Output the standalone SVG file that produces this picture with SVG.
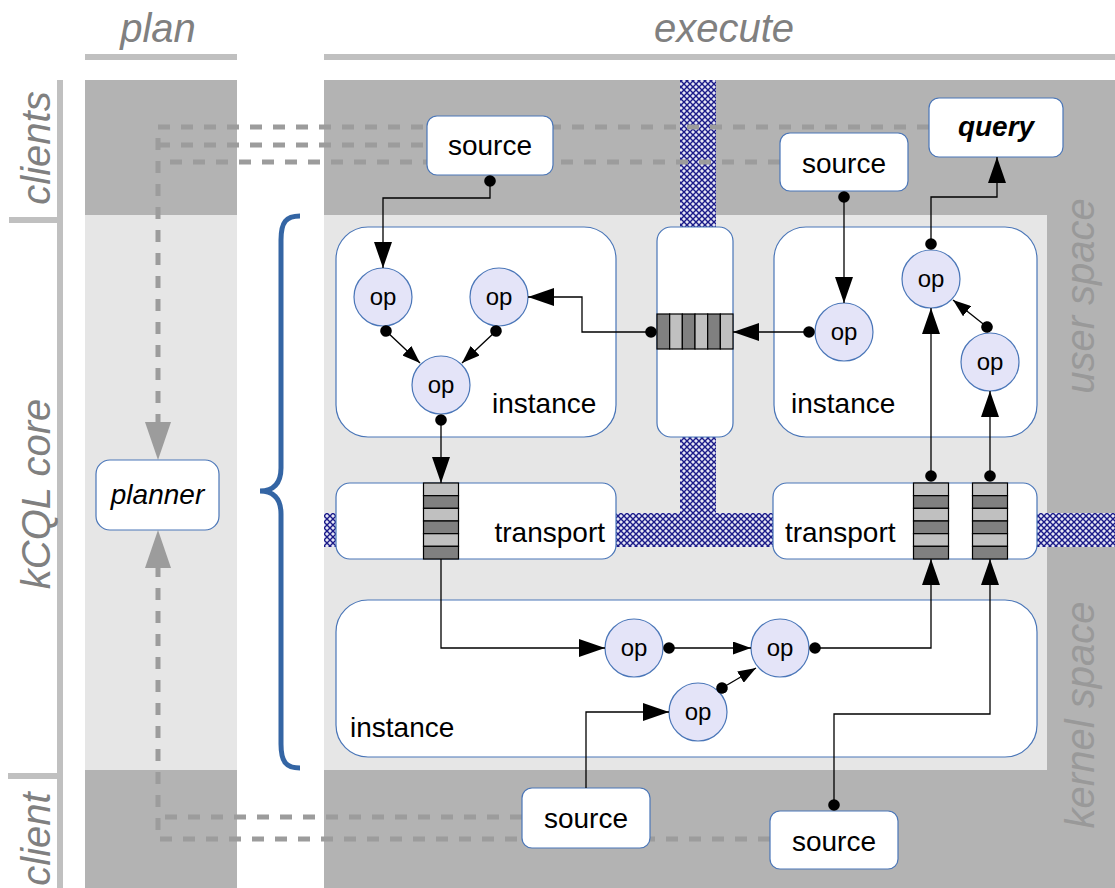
<svg xmlns="http://www.w3.org/2000/svg" width="1115" height="888" viewBox="0 0 1115 888">
  <defs>
    <style>
      .lbl { font-family: "Liberation Sans", Arial, sans-serif; font-style: italic; font-size: 40px; fill: #808080; }
      .side { font-family: "Liberation Sans", Arial, sans-serif; font-style: italic; font-size: 40px; fill: #999999; }
      .box { fill: #ffffff; stroke: #4a76b8; stroke-width: 1.2; }
      .op { fill: #e4e4f8; stroke: #4a76b8; stroke-width: 1.2; }
      .optext { font-family: "Liberation Sans", Arial, sans-serif; font-size: 24px; fill: #000; text-anchor: middle; }
      .name { font-family: "Liberation Sans", Arial, sans-serif; font-size: 28px; fill: #000; }
      .wire { fill: none; stroke: #000; stroke-width: 1.3; }
      .dash { fill: none; stroke: #9c9c9c; stroke-width: 5; stroke-dasharray: 12 11; }
      .qd { fill: #808080; stroke: #000; stroke-width: 1.2; }
      .ql { fill: #c0c0c0; stroke: #000; stroke-width: 1.2; }
      .dark { fill: #b3b3b3; }
      .light { fill: #e6e6e6; }
      .rule { fill: #c0c0c0; }
    </style>
    <pattern id="hatch" width="6" height="6" patternUnits="userSpaceOnUse">
      <rect width="6" height="6" fill="#e6e6f4"/>
      <path d="M0,0 L6,6 M6,0 L0,6" stroke="#1a1a88" stroke-width="1.4"/>
    </pattern>
    <marker id="arr" viewBox="0 0 26 18" refX="26" refY="9" markerWidth="26" markerHeight="18" markerUnits="userSpaceOnUse" orient="auto">
      <path d="M0,0 L26,9 L0,18 Z" fill="#000"/>
    </marker>
    <marker id="arrS" viewBox="0 0 18 13" refX="18" refY="6.5" markerWidth="18" markerHeight="13" markerUnits="userSpaceOnUse" orient="auto">
      <path d="M0,0 L18,6.5 L0,13 Z" fill="#000"/>
    </marker>
    <marker id="arrG" viewBox="0 0 38 26" refX="38" refY="13" markerWidth="38" markerHeight="26" markerUnits="userSpaceOnUse" orient="auto">
      <path d="M0,0 L38,13 L0,26 Z" fill="#9c9c9c"/>
    </marker>
    <marker id="dot" viewBox="0 0 12 12" refX="6" refY="6" markerWidth="12" markerHeight="12" markerUnits="userSpaceOnUse" orient="auto">
      <circle cx="6" cy="6" r="5.8" fill="#000"/>
    </marker>
  </defs>

  <rect width="1115" height="888" fill="#ffffff"/>

  <!-- column headers -->
  <g id="headers">
    <rect class="rule" x="85" y="54" width="152" height="6"/>
    <rect class="rule" x="324" y="54" width="791" height="6"/>
    <text class="lbl" x="158" y="42" text-anchor="middle">plan</text>
    <text class="lbl" x="724" y="42" text-anchor="middle">execute</text>
  </g>

  <!-- row labels on the left -->
  <g id="rows">
    <rect class="rule" x="57" y="80" width="6" height="808"/>
    <rect class="rule" x="9" y="217" width="54" height="6"/>
    <rect class="rule" x="8" y="773" width="55" height="6"/>
    <text class="lbl" transform="translate(50,148) rotate(-90)" text-anchor="middle">clients</text>
    <text class="lbl" transform="translate(50,494) rotate(-90)" text-anchor="middle">kCQL core</text>
    <text class="lbl" transform="translate(50,839) rotate(-90)" text-anchor="middle">client</text>
  </g>

  <!-- shaded zones -->
  <g id="zones">
    <rect class="dark" x="85" y="80" width="152" height="808"/>
    <rect class="light" x="85" y="215" width="152" height="555"/>
    <rect class="dark" x="324" y="80" width="791" height="808"/>
    <rect class="light" x="324" y="215" width="723" height="555"/>
    <text class="side" transform="translate(1094,296) rotate(-90)" text-anchor="middle">user space</text>
    <text class="side" transform="translate(1094,715) rotate(-90)" text-anchor="middle">kernel space</text>
  </g>

  <!-- network fabric -->
  <path id="fabric" d="M680,80 H716 V513 H1115 V547 H324 V513 H680 Z" fill="url(#hatch)"/>

  <!-- planner links -->
  <g id="planner-links">
    <path class="dash" d="M158,127 H929"/>
    <path class="dash" d="M158,145 H427"/>
    <path class="dash" d="M170,162 H780"/>
    <path class="dash" d="M158,138 V424"/>
    <path d="M158,420 V460" fill="none" stroke="none" marker-end="url(#arrG)"/>
    <path class="dash" d="M158,830 V566"/>
    <path d="M158,570 V530" fill="none" stroke="none" marker-end="url(#arrG)"/>
    <path class="dash" d="M165,817 H522"/>
    <path class="dash" d="M160,839 H770"/>
  </g>

  <!-- brace -->
  <path id="brace" d="M300,216 C286,216 281,222 281,240 V468 C281,484 273,491 260,491 C273,491 281,498 281,514 V744 C281,762 286,768 300,768" fill="none" stroke="#3465a4" stroke-width="5"/>

  <g id="planner">
    <rect class="box" x="96" y="460" width="123" height="70" rx="14"/>
    <text class="name" x="157.5" y="504" text-anchor="middle" font-style="italic">planner</text>
  </g>

  <g id="source-a">
    <rect class="box" x="427" y="116" width="126" height="59" rx="10"/>
    <text class="name" x="490" y="155" text-anchor="middle">source</text>
  </g>
  <g id="source-b">
    <rect class="box" x="780" y="133" width="128" height="58" rx="10"/>
    <text class="name" x="844" y="173" text-anchor="middle">source</text>
  </g>
  <g id="query">
    <rect class="box" x="929" y="98" width="134" height="59" rx="10"/>
    <text class="name" x="996" y="136" text-anchor="middle" font-weight="bold" font-style="italic">query</text>
  </g>
  <g id="source-c">
    <rect class="box" x="522" y="788" width="128" height="60" rx="10"/>
    <text class="name" x="586" y="828" text-anchor="middle">source</text>
  </g>
  <g id="source-d">
    <rect class="box" x="770" y="811" width="128" height="58" rx="10"/>
    <text class="name" x="834" y="851" text-anchor="middle">source</text>
  </g>

  <!-- user-space instance, left -->
  <g id="instance-left">
    <rect class="box" x="336" y="227" width="280" height="210" rx="32"/>
    <text class="name" x="492" y="413">instance</text>
  </g>
  <!-- user-space transport between instances -->
  <g id="transport-mid">
    <rect class="box" x="657" y="227" width="76" height="210" rx="14"/>
    <g id="queue-mid">
      <rect class="qd" x="657" y="314" width="12.67" height="35"/>
      <rect class="ql" x="669.67" y="314" width="12.67" height="35"/>
      <rect class="qd" x="682.33" y="314" width="12.67" height="35"/>
      <rect class="ql" x="695" y="314" width="12.67" height="35"/>
      <rect class="qd" x="707.67" y="314" width="12.67" height="35"/>
      <rect class="ql" x="720.33" y="314" width="12.67" height="35"/>
    </g>
  </g>
  <!-- user-space instance, right -->
  <g id="instance-right">
    <rect class="box" x="774" y="227" width="263" height="210" rx="32"/>
    <text class="name" x="791" y="413">instance</text>
  </g>

  <!-- transports -->
  <g id="transport-left">
    <rect class="box" x="336" y="483" width="280" height="76" rx="14"/>
    <text class="name" x="605" y="542" text-anchor="end">transport</text>
    <g id="queue-left">
      <rect class="ql" x="423.5" y="483" width="35" height="12.67"/>
      <rect class="qd" x="423.5" y="495.67" width="35" height="12.67"/>
      <rect class="ql" x="423.5" y="508.33" width="35" height="12.67"/>
      <rect class="qd" x="423.5" y="521" width="35" height="12.67"/>
      <rect class="ql" x="423.5" y="533.67" width="35" height="12.67"/>
      <rect class="qd" x="423.5" y="546.33" width="35" height="12.67"/>
    </g>
  </g>
  <g id="transport-right">
    <rect class="box" x="773" y="483" width="264" height="76" rx="14"/>
    <text class="name" x="785" y="542">transport</text>
    <g id="queue-right-1">
      <rect class="ql" x="913.5" y="483" width="35" height="12.67"/>
      <rect class="qd" x="913.5" y="495.67" width="35" height="12.67"/>
      <rect class="ql" x="913.5" y="508.33" width="35" height="12.67"/>
      <rect class="qd" x="913.5" y="521" width="35" height="12.67"/>
      <rect class="ql" x="913.5" y="533.67" width="35" height="12.67"/>
      <rect class="qd" x="913.5" y="546.33" width="35" height="12.67"/>
    </g>
    <g id="queue-right-2">
      <rect class="ql" x="972.5" y="483" width="35" height="12.67"/>
      <rect class="qd" x="972.5" y="495.67" width="35" height="12.67"/>
      <rect class="ql" x="972.5" y="508.33" width="35" height="12.67"/>
      <rect class="qd" x="972.5" y="521" width="35" height="12.67"/>
      <rect class="ql" x="972.5" y="533.67" width="35" height="12.67"/>
      <rect class="qd" x="972.5" y="546.33" width="35" height="12.67"/>
    </g>
  </g>

  <!-- kernel-space instance -->
  <g id="instance-kernel">
    <rect class="box" x="336" y="600" width="701" height="157" rx="32"/>
    <text class="name" x="350" y="737">instance</text>
  </g>

  <!-- operators -->
  <g id="op-l1"><circle class="op" cx="383" cy="297" r="29"/><text class="optext" x="383" y="305">op</text></g>
  <g id="op-l2"><circle class="op" cx="499" cy="297" r="29"/><text class="optext" x="499" y="305">op</text></g>
  <g id="op-l3"><circle class="op" cx="441" cy="385" r="29"/><text class="optext" x="441" y="393">op</text></g>
  <g id="op-r1"><circle class="op" cx="844" cy="332" r="29"/><text class="optext" x="844" y="340">op</text></g>
  <g id="op-r2"><circle class="op" cx="931" cy="279" r="29"/><text class="optext" x="931" y="287">op</text></g>
  <g id="op-r3"><circle class="op" cx="990" cy="362" r="29"/><text class="optext" x="990" y="370">op</text></g>
  <g id="op-k1"><circle class="op" cx="634" cy="648" r="29"/><text class="optext" x="634" y="656">op</text></g>
  <g id="op-k2"><circle class="op" cx="780" cy="648" r="29"/><text class="optext" x="780" y="656">op</text></g>
  <g id="op-k3"><circle class="op" cx="698" cy="712" r="29"/><text class="optext" x="698" y="720">op</text></g>

  <!-- data-flow connectors -->
  <g id="connectors">
    <path class="wire" d="M490,181 V198 H383 V268" marker-start="url(#dot)" marker-end="url(#arr)"/>
    <path class="wire" d="M651,332 H582 V297 H528" marker-start="url(#dot)" marker-end="url(#arr)"/>
    <path class="wire" d="M809,332 H733" marker-start="url(#dot)" marker-end="url(#arr)"/>
    <path class="wire" d="M844,197 V303" marker-start="url(#dot)" marker-end="url(#arr)"/>
    <path class="wire" d="M931,244 V197 H997 V157" marker-start="url(#dot)" marker-end="url(#arr)"/>
    <path class="wire" d="M987,327 L953,300" marker-start="url(#dot)" marker-end="url(#arrS)"/>
    <path class="wire" d="M386,331 L420,363" marker-start="url(#dot)" marker-end="url(#arrS)"/>
    <path class="wire" d="M496,331 L462,363" marker-start="url(#dot)" marker-end="url(#arrS)"/>
    <path class="wire" d="M441,420 V483" marker-start="url(#dot)" marker-end="url(#arr)"/>
    <path class="wire" d="M441,559 V648 H605" marker-end="url(#arr)"/>
    <path class="wire" d="M669,648 H751" marker-start="url(#dot)" marker-end="url(#arrS)"/>
    <path class="wire" d="M722,688 L756,668" marker-start="url(#dot)" marker-end="url(#arrS)"/>
    <path class="wire" d="M815,648 H931 V559" marker-start="url(#dot)" marker-end="url(#arr)"/>
    <path class="wire" d="M834,805 V714 H990 V559" marker-start="url(#dot)" marker-end="url(#arr)"/>
    <path class="wire" d="M586,788 V712 H669" marker-end="url(#arr)"/>
    <path class="wire" d="M931,476 V308" marker-start="url(#dot)" marker-end="url(#arr)"/>
    <path class="wire" d="M990,476 V391" marker-start="url(#dot)" marker-end="url(#arr)"/>
  </g>
</svg>
